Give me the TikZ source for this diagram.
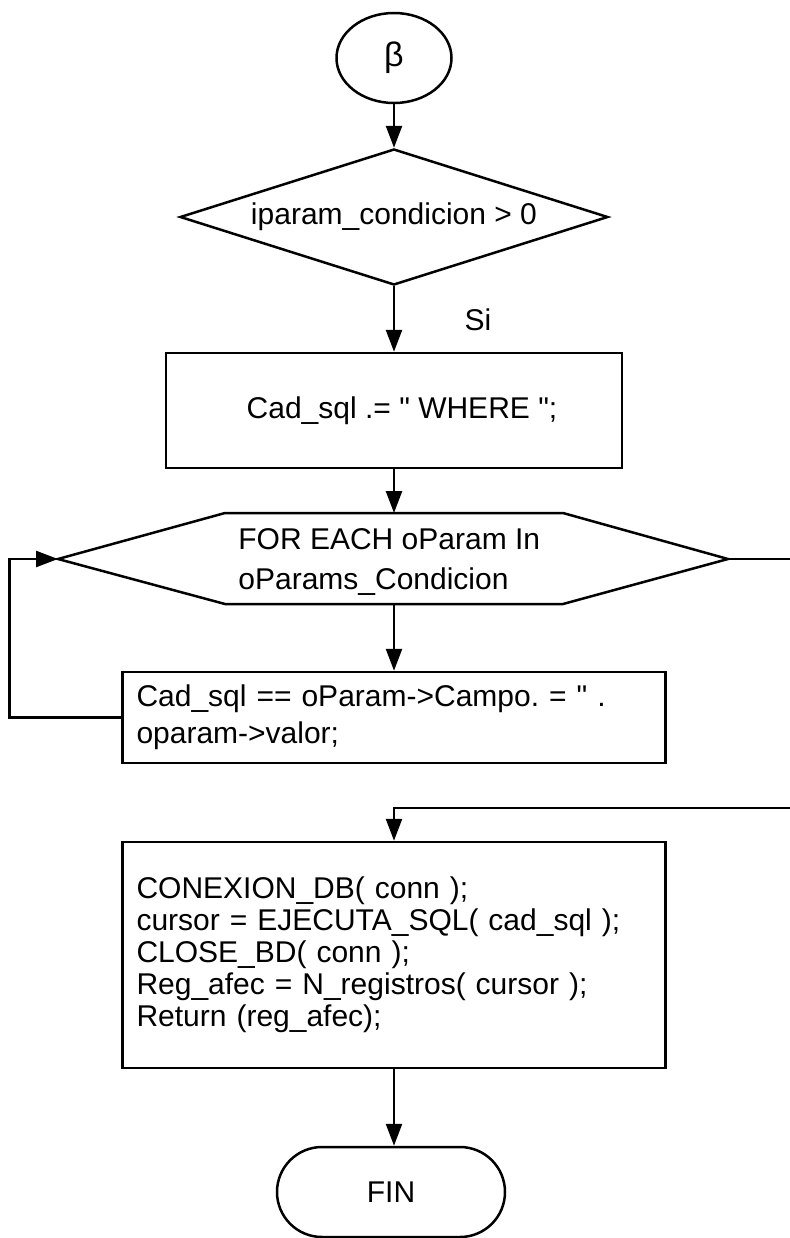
\documentclass[tikz,border=0pt]{standalone}
\usepackage{fontspec}
\setmainfont{Liberation Sans}
\usetikzlibrary{arrows.meta,shapes.geometric}
\frenchspacing
\begin{document}
\begin{tikzpicture}[x=0.5pt,y=-0.5pt,
  ln/.style={line width=1.25pt},
  arr/.style={ln,-{Triangle[length=11pt,width=8pt]}},
  box/.style={draw,ln,rectangle,inner sep=0pt},
  txt/.style={font=\fontsize{15}{18}\selectfont},
]
\useasboundingbox (0,0) rectangle (790,1238);
\fill[white] (0,0) rectangle (790,1238);
% nodes
\node[draw,ln,ellipse,minimum width=57.5pt,minimum height=45pt,inner sep=0pt,font=\fontsize{17}{18}\selectfont] (start) at (394,58) {β};
\node[draw,ln,diamond,aspect=3.15,minimum width=214pt,minimum height=68pt,inner sep=0pt,txt] (cond) at (394,217) {iparam\_condicion > 0};
\node[txt] (si) at (478,320) {Si};
\node[box,minimum width=228pt,minimum height=57.5pt,txt] (b1) at (394,410.5) {\hspace*{8pt}Cad\_sql .= \textquotedbl{} WHERE \textquotedbl;};
% hexagon (loop)
\coordinate (hexL) at (58,559);
\coordinate (hexR) at (728,559);
\coordinate (hexT) at (394,513);
\coordinate (hexB) at (394,604);
\draw[ln] (hexL) -- (225,513) -- (563,513) -- (hexR) -- (563,604) -- (225,604) -- cycle;
\node[anchor=west,align=left,font=\fontsize{15}{20}\selectfont,inner sep=0pt] (hextext) at (238,562) {FOR EACH oParam In\\oParams\_Condicion};
\node[box,minimum width=271.5pt,minimum height=45.5pt,text width=257.5pt,align=left,font=\fontsize{15}{18.5}\selectfont] (b2) at (394,717.5) {Cad\_sql == oParam->Campo. = \textquotedbl{} .\\oparam->valor;};
\node[box,minimum width=271.5pt,minimum height=113pt,text width=257.5pt,align=left,font=\fontsize{15}{16}\selectfont] (b3) at (394,955) {CONEXION\_DB( conn );\\cursor = EJECUTA\_SQL( cad\_sql );\\CLOSE\_BD( conn );\\Reg\_afec = N\_registros( cursor );\\Return (reg\_afec);\\[10pt]};
\node[draw,ln,rectangle,rounded corners=22.5pt,minimum width=114pt,minimum height=45pt,txt] (fin) at (391,1192) {FIN};
% connectors
\draw[arr] (start.south) -- (cond.north);
\draw[arr] (cond.south) -- (b1.north);
\draw[arr] (b1.south) -- (hexT);
\draw[arr] (hexB) -- (b2.north);
\draw[arr] (b2.west) -- ++(-112,0) |- (hexL);
\coordinate (rx) at (800,808);
\draw[arr] (hexR) -| (rx) -| (b3.north);
\draw[arr] (b3.south) -- (b3.south |- fin.north);
\end{tikzpicture}
\end{document}
